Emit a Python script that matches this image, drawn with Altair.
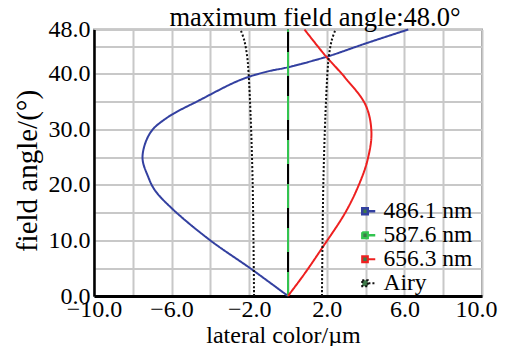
import altair as alt
import pandas as pd

# ---- data ----
series = ["486.1 nm", "587.6 nm", "656.3 nm", "Airy"]

blue_angle = [0, 5, 10, 15.5, 19, 21.4, 25, 29.4, 32.1, 35.3, 38.9, 40.4, 41.2, 43.1, 45.6, 48]
blue_x = [0, -1.95, -4.0, -5.9, -6.85, -7.2, -7.5, -7.1, -6.24, -4.54, -2.47, -1.1, 0, 2.0, 4.1, 6.2]

green_angle = [0, 48]
green_x = [0, 0]

red_angle = [0, 4, 8.6, 15, 20, 24.5, 29.5, 34.4, 39.3, 43.4, 48]
red_x = [0, 0.85, 1.75, 2.95, 3.65, 4.1, 4.3, 4.0, 2.95, 1.9, 0.85]

airy_angle = [0, 10, 20, 30, 36, 40, 43, 46, 48]
airy_x = [1.75, 1.78, 1.82, 1.9, 1.97, 2.03, 2.1, 2.25, 2.45]

x_grid = list(range(-10, 11, 2))
y_grid = [0, 5, 10, 15, 20, 25, 30, 35, 40, 45, 48]

rows = []
for a, v in zip(blue_angle, blue_x):
    rows.append({"series": series[0], "branch": "b", "angle": a, "lc": v})
for a, v in zip(green_angle, green_x):
    rows.append({"series": series[1], "branch": "g", "angle": a, "lc": v})
for a, v in zip(red_angle, red_x):
    rows.append({"series": series[2], "branch": "r", "angle": a, "lc": v})
for a, v in zip(airy_angle, airy_x):
    rows.append({"series": series[3], "branch": "a+", "angle": a, "lc": v})
    rows.append({"series": series[3], "branch": "a-", "angle": a, "lc": -v})
df = pd.DataFrame(rows)

FONT = "Liberation Serif"

xenc = alt.X("lc:Q", scale=alt.Scale(domain=[-10, 10], nice=False, zero=False),
             axis=alt.Axis(values=x_grid, title="lateral color/\u00b5m",
                           labelExpr="(datum.value + 10) % 4 == 0 ? format(datum.value, '.1f') : ''",
                           labelAlign={"condition": {"test": "datum.value == 10", "value": "right"},
                                       "value": "center"},
                           labelOffset={"condition": {"test": "datum.value == 10", "value": 15},
                                        "value": 0},
                           domainColor="black", domainWidth=3, labelPadding=1,
                           labelFlush=False, titlePadding=2, titleFontSize=24,
                           titleX=189))
yenc = alt.Y("angle:Q", scale=alt.Scale(domain=[0, 48], nice=False),
             axis=alt.Axis(values=y_grid, title="field angle/(\u00b0)",
                           labelExpr="(datum.value % 10 == 0 || datum.value == 48) ? format(datum.value, '.1f') : ''",
                           domainColor="black", domainWidth=2.5, labelPadding=4,
                           labelFlush=False, titlePadding=6, titleFontSize=29,
                           titleY=141))

zero_line = alt.Chart(df).transform_filter(
    alt.datum.series == series[1]
).mark_line(color="black", strokeWidth=2).encode(
    x=xenc, y=yenc, order="angle:Q"
)

sym = "M-1,-0.45L-0.15,-0.45L-0.15,0.45L-1,0.45Z M-0.05,0L1,0"
legend_opts = dict(title=None, orient="none", legendX=263, legendY=170,
                   padding=0, symbolType=sym, symbolSize=169,
                   symbolStrokeWidth=1.1, symbolFillColor="#3f7a4a",
                   labelFont=FONT, labelFontSize=23.5, rowPadding=-1,
                   labelOffset=3)

lines = alt.Chart(df).mark_line(strokeWidth=2, interpolate="catmull-rom").encode(
    x=xenc,
    y=yenc,
    order="angle:Q",
    detail="branch:N",
    color=alt.Color("series:N",
                    scale=alt.Scale(domain=series,
                                    range=["#3340a0", "#33c450", "#ee2020", "#111111"]),
                    legend=alt.Legend(**legend_opts)),
    strokeDash=alt.StrokeDash("series:N",
                              scale=alt.Scale(domain=series,
                                              range=[[1, 0], [24, 20], [1, 0], [2, 2]]),
                              legend=alt.Legend(**legend_opts)),
    strokeWidth=alt.StrokeWidth("series:N",
                                scale=alt.Scale(domain=series, range=[2.5, 2, 1.8, 1.6]),
                                legend=None),
)

chart = alt.layer(zero_line, lines).properties(
    width=388, height=266.5,
    autosize="none",
    background="white",
    padding={"left": 86, "top": 21.5, "right": 17, "bottom": 50},
    title=alt.TitleParams("maximum field angle:48.0\u00b0", font=FONT, fontSize=26.5,
                          fontWeight="normal", dx=27, offset=-14, color="black"),
).configure_axis(
    labelFont=FONT, labelFontSize=24, labelColor="black",
    titleFont=FONT, titleFontWeight="normal", titleColor="black",
    ticks=False, gridColor="#c8c8c8", gridWidth=2, gridOpacity=1,
).configure_legend(
    rowPadding=-1
).configure_view(
    stroke="#999999", strokeWidth=2
)

chart.save("out.html", embed_options={"renderer": "svg", "actions": False})
